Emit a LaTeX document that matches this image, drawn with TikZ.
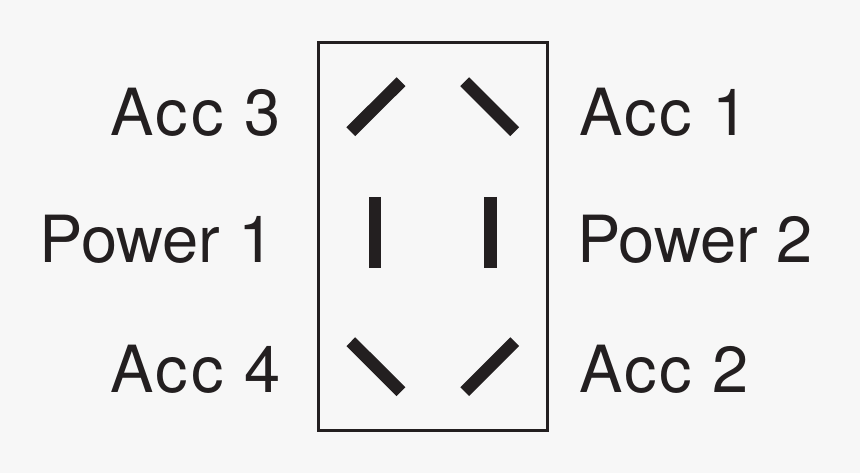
\documentclass[tikz,border=0pt]{standalone}
\usepackage{fontspec}
\setmainfont{TeX Gyre Heros}
\newfontfamily\accfont{TeX Gyre Heros}[LetterSpace=4]
\definecolor{bg}{RGB}{247,247,247}
\definecolor{ink}{RGB}{35,31,32}
\begin{document}
\begin{tikzpicture}[x=1pt,y=-1pt,
  lbl/.style={inner sep=0pt,text=ink,font=\fontsize{65}{65}\selectfont},
  acc/.style={lbl,font=\fontsize{65}{65}\accfont},
  pin/.style={draw=ink,line width=12.5pt,line cap=butt},
  frame/.style={draw=ink,line width=2.5pt}]
\fill[bg] (0,0) rectangle (860,473);
\useasboundingbox (0,0) rectangle (860,473);
\draw[frame] (318.5,42.5) rectangle (547.5,430.5);
% pins
\draw[pin] (350.8,131.7) -- (401,81.7);
\draw[pin] (464.7,81.7) -- (514.7,131.7);
\draw[pin] (375.2,197) -- (375.2,268.3);
\draw[pin] (490.7,197) -- (490.7,268.3);
\draw[pin] (350.8,341.7) -- (401,391.7);
\draw[pin] (464.7,391.7) -- (514.7,341.7);
% labels
\node[acc,anchor=base east] (acc3) at (280.6,135.7) {Acc 3};
\node[lbl,anchor=base east] (pow1) at (275,263) {Power 1};
\node[acc,anchor=base east] (acc4) at (280.6,392.7) {Acc 4};
\node[acc,anchor=base west] (acc1) at (579,135.7) {Acc 1};
\node[lbl,anchor=base west] (pow2) at (577,263) {Power 2};
\node[acc,anchor=base west] (acc2) at (579,392.7) {Acc 2};
\end{tikzpicture}
\end{document}
